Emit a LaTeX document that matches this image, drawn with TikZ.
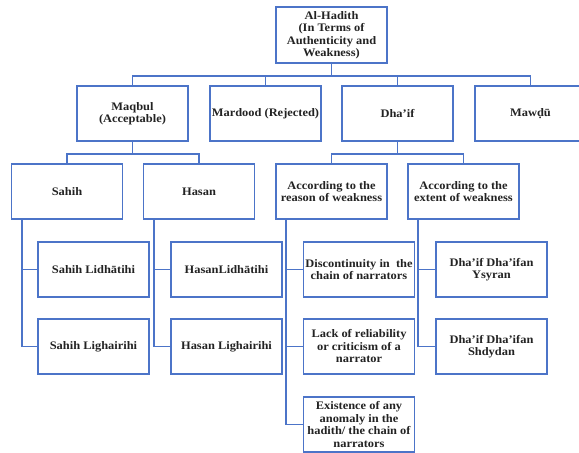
\documentclass[tikz,border=0pt]{standalone}
\usepackage{fontspec}
\setmainfont{Liberation Serif}[FakeStretch=1.08]
\definecolor{boxblue}{RGB}{76,116,200}
\definecolor{txt}{RGB}{35,35,35}
\begin{document}
\begin{tikzpicture}[x=1pt,y=1pt,
  box/.style={draw=boxblue, line width=1.8pt, fill=white, rectangle,
    minimum width=111pt, minimum height=55pt, inner sep=0pt, align=center,
    text=txt, font=\fontsize{11.5}{12.5}\selectfont\bfseries},
  conn/.style={draw=boxblue, line width=1.8pt}]
\clip (0,0) rectangle (579,-453);
\fill[white] (0,0) rectangle (579,-453);
% top
\node[box, minimum height=56pt] (top) at (331.5,-35) {Al-Hadith\\(In Terms of\\Authenticity and\\Weakness)};
% level 2
\node[box] (maqbul) at (132.5,-113.5) {Maqbul\\(Acceptable)};
\node[box] (mardood) at (265.5,-113.5) {Mardood (Rejected)};
\node[box] (dhaif) at (397.5,-113.5) {Dha’if};
\node[box] (mawdu) at (530.5,-113.5) {Mawḍū};
% level 3
\node[box] (sahih) at (67,-191.5) {Sahih};
\node[box] (hasan) at (199,-191.5) {Hasan};
\node[box] (reason) at (331.5,-191.5) {According to the\\reason of weakness};
\node[box] (extent) at (463.5,-191.5) {According to the\\extent of weakness};
% children
\node[box] (sl) at (93.5,-269.5) {Sahih Lidhātihi};
\node[box] (sg) at (93.5,-346.5) {Sahih Lighairihi};
\node[box] (hl) at (226.5,-269.5) {HasanLidhātihi};
\node[box] (hg) at (226.5,-346.5) {Hasan Lighairihi};
\node[box] (r1) at (359,-269.5) {Discontinuity in~ the\\chain of narrators};
\node[box] (r2) at (359,-346.5) {Lack of reliability\\or criticism of a\\narrator};
\node[box] (r3) at (359,-424.5) {Existence of any\\anomaly in the\\hadith/ the chain of\\narrators};
\node[box] (e1) at (491.5,-269.5) {Dha’if Dha’ifan\\Ysyran};
\node[box] (e2) at (491.5,-346.5) {Dha’if Dha’ifan\\Shdydan};
% connectors
\foreach \n in {maqbul,mardood,dhaif,mawdu}
  \draw[conn] (top.south) -- ++(0,-12) -| (\n.north);
\foreach \n in {sahih,hasan}
  \draw[conn] (maqbul.south) -- ++(0,-12) -| (\n.north);
\foreach \n in {reason,extent}
  \draw[conn] (dhaif.south) -- ++(0,-12) -| (\n.north);
\foreach \p/\c in {sahih/sl,sahih/sg,hasan/hl,hasan/hg,reason/r1,reason/r2,reason/r3,extent/e1,extent/e2}
  \draw[conn] ([xshift=11pt]\p.south west) |- (\c.west);
\end{tikzpicture}
\end{document}
